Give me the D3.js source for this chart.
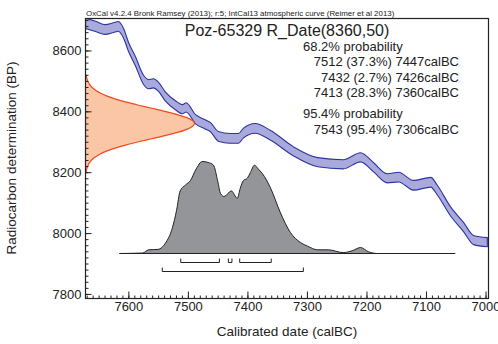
<!DOCTYPE html>
<html>
<head>
<meta charset="utf-8">
<script src="https://cdn.jsdelivr.net/npm/d3@7"></script>
<style>
  body { margin: 0; background: #fff; }
  text { font-family: "Liberation Sans", Arial, sans-serif; fill: #222; }
</style>
</head>
<body>
<div id="chart"></div>
<script>
// DATA

// calibration curve (IntCal13), calBC vs BP with 1 sigma
const calYears = [7672, 7655, 7639, 7625, 7617, 7608, 7600, 7588, 7575, 7566, 7558, 7550, 7538, 7521, 7509, 7503, 7487, 7471, 7462, 7449, 7429, 7415, 7407, 7387, 7361, 7323, 7282, 7239, 7210, 7188, 7165, 7146, 7121, 7092, 7081, 7059, 7037, 7020, 6997];
const calBP = [8689, 8679, 8669, 8675, 8679, 8656, 8613, 8564, 8505, 8489, 8492, 8482, 8449, 8420, 8407, 8413, 8374, 8357, 8348, 8318, 8311, 8311, 8328, 8344, 8321, 8269, 8233, 8226, 8249, 8216, 8180, 8184, 8157, 8167, 8141, 8072, 8020, 7977, 7970];
const calSigma = [17, 17, 16, 16, 16, 16, 15, 15, 15, 15, 15, 15, 15, 15, 15, 15, 15, 15, 15, 16, 16, 16, 16, 16, 16, 15, 15, 15, 15, 15, 15, 16, 16, 16, 16, 15, 15, 15, 15];

// radiocarbon date R_Date(8360,50)
const rcBP = [8200, 8210, 8220, 8230, 8240, 8250, 8260, 8270, 8280, 8290, 8300, 8310, 8320, 8330, 8340, 8350, 8360, 8370, 8380, 8390, 8400, 8410, 8420, 8430, 8440, 8450, 8460, 8470, 8480, 8490, 8500, 8510, 8520];
const rcProb = [0.006, 0.011, 0.02, 0.034, 0.056, 0.089, 0.135, 0.198, 0.278, 0.375, 0.487, 0.607, 0.726, 0.835, 0.923, 0.98, 1, 0.98, 0.923, 0.835, 0.726, 0.607, 0.487, 0.375, 0.278, 0.198, 0.135, 0.089, 0.056, 0.034, 0.02, 0.011, 0.006];

// calibrated distribution
const postYears = [7615, 7576, 7566, 7550, 7538, 7526, 7519, 7513, 7503, 7496, 7486, 7476, 7466, 7457, 7450, 7445, 7439, 7427, 7417, 7412, 7407, 7400, 7395, 7388, 7382, 7375, 7361, 7345, 7328, 7311, 7299, 7282, 7264, 7239, 7224, 7210, 7197, 7182, 7051];
const postProb = [0, 0.005, 0.04, 0.045, 0.11, 0.28, 0.47, 0.68, 0.75, 0.79, 0.92, 1, 0.99, 0.96, 0.79, 0.65, 0.62, 0.68, 0.6, 0.71, 0.79, 0.82, 0.88, 0.96, 0.92, 0.87, 0.71, 0.45, 0.23, 0.12, 0.08, 0.04, 0.04, 0.01, 0.03, 0.065, 0.02, 0, 0];

// ranges
const ranges68 = [[7512, 7447], [7432, 7426], [7413, 7360]];
const ranges95 = [[7543, 7306]];

// texts
const topNote = 'OxCal v4.2.4 Bronk Ramsey (2013); r:5; IntCal13 atmospheric curve (Reimer et al 2013)';
const titleText = 'Poz-65329 R_Date(8360,50)';
const headers = ['68.2% probability', '95.4% probability'];
const rangeLines68 = ['7512 (37.3%) 7447calBC', '7432 (2.7%) 7426calBC', '7413 (28.3%) 7360calBC'];
const rangeLines95 = ['7543 (95.4%) 7306calBC'];

const xTicks = [7600, 7500, 7400, 7300, 7200, 7100, 7000];
const yTicks = [7800, 8000, 8200, 8400, 8600];

// LAYOUT
const width = 498;
const height = 344;
const frame = { left: 85.5, right: 488.5, top: 18.5, bottom: 298.5 };

const x = d3.scaleLinear().domain([7672, 6995]).range([frame.left, frame.right]);
const y = d3.scaleLinear().domain([7785, 8705]).range([frame.bottom, frame.top]);

const svg = d3.select('#chart').append('svg')
  .attr('width', width)
  .attr('height', height);

svg.append('clipPath').attr('id', 'clip')
  .append('rect')
  .attr('x', frame.left).attr('y', frame.top)
  .attr('width', frame.right - frame.left)
  .attr('height', frame.bottom - frame.top);

const plot = svg.append('g').attr('clip-path', 'url(#clip)');

// CALIBRATION CURVE
const calData = calYears.map((d, i) => ({ year: d, bp: calBP[i], s: calSigma[i] }));
plot.append('path')
  .datum(calData)
  .attr('fill', '#a9a9db')
  .attr('stroke', '#2d35a0')
  .attr('stroke-width', 1.1)
  .attr('d', d3.area()
    .curve(d3.curveMonotoneX)
    .x(d => x(d.year))
    .y0(d => y(d.bp - d.s))
    .y1(d => y(d.bp + d.s)));

// RADIOCARBON DATE (ORANGE)
const rcData = rcBP.map((d, i) => ({ bp: d, p: rcProb[i] }));
const rcX = d3.scaleLinear().domain([0, 1]).range([frame.left, frame.left + 109]);
plot.append('path')
  .datum(rcData)
  .attr('fill', '#fbc6a6')
  .attr('d', d3.area()
    .curve(d3.curveMonotoneY)
    .y(d => y(d.bp))
    .x0(rcX(0))
    .x1(d => rcX(d.p)));
plot.append('path')
  .datum(rcData)
  .attr('fill', 'none')
  .attr('stroke', '#f04a1e')
  .attr('stroke-width', 1.2)
  .attr('d', d3.line()
    .curve(d3.curveMonotoneY)
    .y(d => y(d.bp))
    .x(d => rcX(d.p)));

// CALIBRATED DISTRIBUTION (GREY)
const distBase = 253.5;
const postData = postYears.map((d, i) => ({ year: d, p: postProb[i] }));
const pY = d3.scaleLinear().domain([0, 1]).range([distBase, distBase - 92]);
plot.append('path')
  .datum(postData)
  .attr('fill', '#939598')
  .attr('d', d3.area()
    .curve(d3.curveMonotoneX)
    .x(d => x(d.year))
    .y0(pY(0))
    .y1(d => pY(d.p)));
plot.append('path')
  .datum(postData)
  .attr('fill', 'none')
  .attr('stroke', '#222')
  .attr('stroke-width', 1)
  .attr('d', d3.line()
    .curve(d3.curveMonotoneX)
    .x(d => x(d.year))
    .y(d => pY(d.p)));
plot.append('line')
  .attr('x1', x(postYears[0])).attr('x2', x(postYears[postYears.length - 1]))
  .attr('y1', distBase).attr('y2', distBase)
  .attr('stroke', '#222').attr('stroke-width', 1);

// RANGE BRACKETS
function brackets(ranges, yy) {
  const g = plot.append('g').attr('fill', 'none').attr('stroke', '#222').attr('stroke-width', 1);
  ranges.forEach(r => {
    g.append('path')
      .attr('d', `M${x(r[0])},${yy - 4}V${yy}H${x(r[1])}V${yy - 4}`);
  });
}
brackets(ranges68, 262.5);
brackets(ranges95, 271.5);

// AXES (ticks inside)
const xAxis = svg.append('g')
  .attr('transform', `translate(0,${frame.bottom})`)
  .call(d3.axisBottom(x).tickValues(d3.range(7000, 7680, 10)).tickSize(-3).tickFormat(''));
xAxis.select('.domain').remove();
const xMajor = svg.append('g')
  .attr('transform', `translate(0,${frame.bottom})`)
  .call(d3.axisBottom(x).tickValues(xTicks).tickSize(-7).tickPadding(3).tickFormat(d3.format('d')));
xMajor.select('.domain').remove();
xMajor.selectAll('text').style('font-size', '13px').attr('font-family', null);

const yAxis = svg.append('g')
  .attr('transform', `translate(${frame.left},0)`)
  .call(d3.axisLeft(y).tickValues(d3.range(7800, 8701, 20)).tickSize(-3).tickFormat(''));
yAxis.select('.domain').remove();
const yMajor = svg.append('g')
  .attr('transform', `translate(${frame.left},0)`)
  .call(d3.axisLeft(y).tickValues(yTicks).tickSize(-6).tickPadding(10).tickFormat(d3.format('d')));
yMajor.select('.domain').remove();
yMajor.selectAll('text').style('font-size', '13px').attr('font-family', null).attr('x', -4);

svg.selectAll('.tick line').attr('stroke', '#222');

// FRAME
svg.append('rect')
  .attr('x', frame.left).attr('y', frame.top)
  .attr('width', frame.right - frame.left)
  .attr('height', frame.bottom - frame.top)
  .attr('fill', 'none')
  .attr('stroke', '#222')
  .attr('stroke-width', 1.2);

// TEXTS
svg.append('text')
  .attr('x', 86).attr('y', 15.5)
  .style('font-size', '7.9px')
  .text(topNote);

svg.append('text')
  .attr('x', 287).attr('y', 36)
  .attr('text-anchor', 'middle')
  .style('font-size', '16px')
  .text(titleText);

const lines = [
  { t: headers[0], x: 303, y: 51, a: 'start' },
  { t: rangeLines68[0], x: 459, y: 66, a: 'end' },
  { t: rangeLines68[1], x: 459, y: 81.5, a: 'end' },
  { t: rangeLines68[2], x: 459, y: 96.5, a: 'end' },
  { t: headers[1], x: 303, y: 118, a: 'start' },
  { t: rangeLines95[0], x: 459, y: 134, a: 'end' }
];
svg.selectAll('text.prob')
  .data(lines)
  .enter().append('text')
  .attr('class', 'prob')
  .attr('x', d => d.x).attr('y', d => d.y)
  .attr('text-anchor', d => d.a)
  .style('font-size', '13px')
  .text(d => d.t);

svg.append('text')
  .attr('x', 287).attr('y', 336)
  .attr('text-anchor', 'middle')
  .style('font-size', '13.5px')
  .text('Calibrated date (calBC)');

svg.append('text')
  .attr('transform', 'translate(16,158) rotate(-90)')
  .attr('text-anchor', 'middle')
  .style('font-size', '13.5px')
  .text('Radiocarbon determination (BP)');
</script>
</body>
</html>
